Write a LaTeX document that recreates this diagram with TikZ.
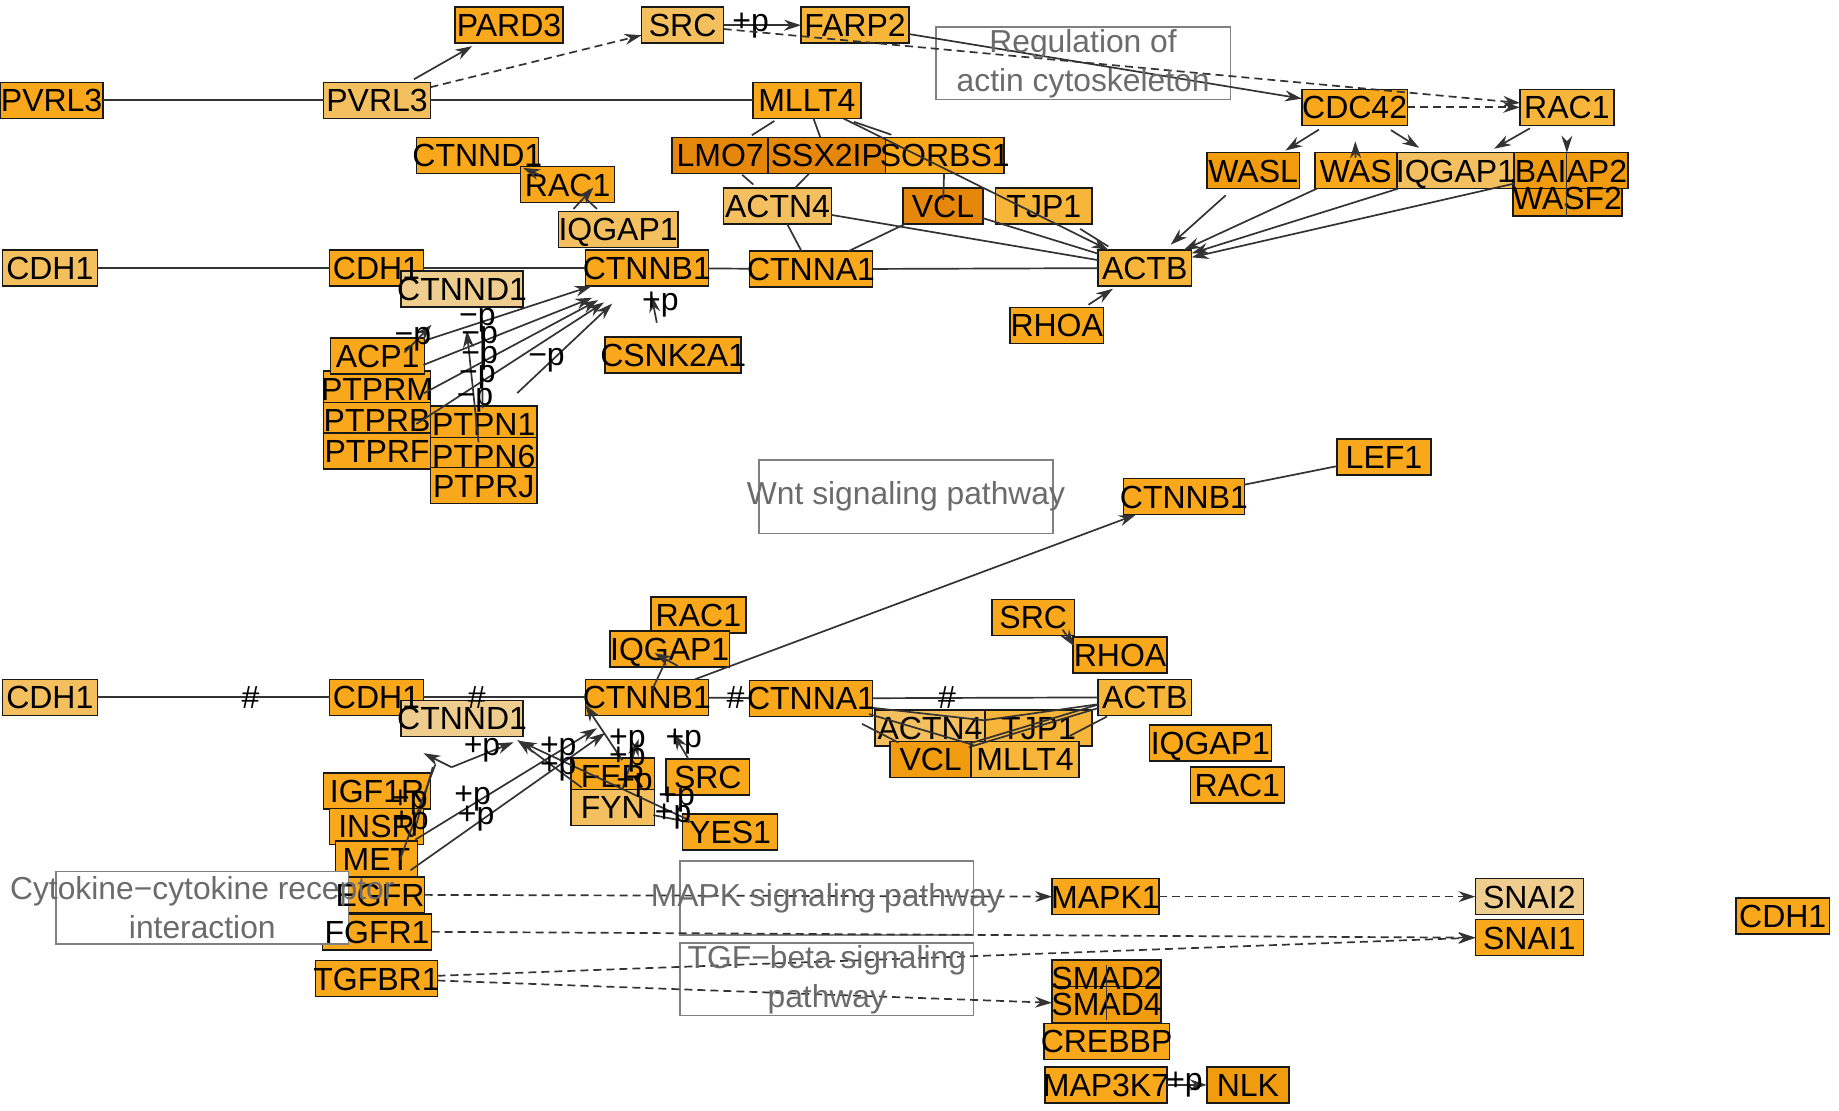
\documentclass[tikz,border=0pt]{standalone}
\usepackage{fontspec}
\setmainfont{Liberation Sans}
\usetikzlibrary{arrows.meta,calc}
\definecolor{cO}{HTML}{F9A71B}
\definecolor{cL}{HTML}{F3BF5F}
\definecolor{cP}{HTML}{EFCD8E}
\definecolor{cD}{HTML}{E5870A}
\definecolor{cM}{HTML}{F19B0F}
\definecolor{cML}{HTML}{F7B53A}
\definecolor{edgec}{HTML}{333333}
\definecolor{pgray}{HTML}{808080}
\definecolor{ptext}{HTML}{6B6B6B}
\begin{document}
\begin{tikzpicture}[x=1.1728pt,y=-1.1728pt,
  gbox/.style={rectangle,draw=black!90,line width=1.5pt,minimum height=36pt,inner sep=0pt,outer sep=0pt},
  glab/.style={font=\fontsize{32}{32}\selectfont,inner sep=0pt,text=black,text height=22.9pt,text depth=0pt},
  pbox/.style={rectangle,draw=pgray,line width=1.6pt,fill=white,inner sep=0pt,outer sep=0pt},
  plab/.style={font=\fontsize{31.8}{39}\selectfont,text=ptext,align=center,inner sep=0pt},
  conn/.style={draw=edgec,line width=1.7pt},
  arr/.style={conn,-{Stealth[length=17pt,width=11pt]}},
  dsh/.style={dash pattern=on 8pt off 5pt},
  elab/.style={font=\fontsize{32}{32}\selectfont,inner sep=0pt,text=black}]
\useasboundingbox (0,0) rectangle (1568,947);
\def\genelist{pvA/44/85.5/88/cO/PVRL3,
pvB/321.5/85.5/91/cL/PVRL3,
pard/434/21.5/92/cO/PARD3,
srcA/582/21.5/70/cL/SRC,
farp/729/21.5/92/cML/FARP2,
mlA/688/85.5/92/cO/MLLT4,
cdc/1155/91.5/90/cO/CDC42,
racA/1336/91.5/80/cML/RAC1,
ctdA/407/132.5/104/cO/CTNND1,
racB/484/157.5/80/cO/RAC1,
lmo/614/132.5/82/cD/LMO7,
ssx/705/132.5/100/cD/SSX2IP,
sor/805.5/132.5/101/cO/SORBS1,
wasl/1068.5/145.5/79/cM/WASL,
was/1156/145.5/70/cO/WAS,
iqA/1241/145.5/100/cL/IQGAP1,
wasf/1336.5/169/93/cM/WASF2,
baia/1339.5/145.5/97/cM/BAIAP2,
iqB/527/195.5/102/cL/IQGAP1,
acA/663/175.5/92/cL/ACTN4,
vclA/804/175.5/68/cD/VCL,
tjA/890/175.5/82/cML/TJP1,
cdA/42.5/228.5/81/cL/CDH1,
cdB/321/228.5/80/cO/CDH1,
ctdB/394/246.5/104/cP/CTNND1,
cbA/551.5/228.5/105/cO/CTNNB1,
caA/691.5/229.5/105/cO/CTNNA1,
abA/976/228.5/80/cML/ACTB,
rhA/901/277.5/80/cO/RHOA,
csn/574/302.5/116/cO/CSNK2A1,
ptm/321.5/331.5/91/cO/PTPRM,
acp/322/303.5/80/cO/ACP1,
ptb/321.5/358.5/91/cO/PTPRB,
ptf/321.5/384.5/91/cO/PTPRF,
pn1/412.5/361.5/91/cO/PTPN1,
pn6/412.5/388.5/91/cO/PTPN6,
prj/412.5/414/91/cO/PTPRJ,
lef/1180/389.5/80/cO/LEF1,
cbB/1009.5/423.5/103/cO/CTNNB1,
racC/595.5/524.5/81/cO/RAC1,
iqC/571/553.5/102/cO/IQGAP1,
srcB/881/526.5/70/cO/SRC,
rhB/955/558.5/80/cO/RHOA,
cdC/42.5/594.5/81/cL/CDH1,
cdD/321/594.5/80/cO/CDH1,
ctdC/394/612.5/104/cP/CTNND1,
cbC/551.5/594.5/105/cO/CTNNB1,
caB/691.5/595.5/105/cO/CTNNA1,
abB/976/594.5/80/cML/ACTB,
acB/793/620.5/94/cL/ACTN4,
tjB/885.5/620.5/91/cML/TJP1,
vclB/793.5/647.5/69/cM/VCL,
mlB/874/647.5/92/cML/MLLT4,
iqD/1032/633.5/104/cO/IQGAP1,
racD/1055/669.5/80/cO/RAC1,
srcC/603.5/662.5/71/cO/SRC,
fer/522.5/661.5/71/cO/FER,
fyn/522.5/688.5/71/cL/FYN,
yes/622.5/709.5/81/cO/YES1,
igf/321.5/674.5/91/cO/IGF1R,
insr/321/704.5/80/cO/INSR,
met/321/732.5/70/cO/MET,
egfr/324/763/76/cO/EGFR,
fgfr/321.5/794.5/93/cO/FGFR1,
tgfb/321/834.5/104/cO/TGFBR1,
mapk/942.5/764.5/91/cO/MAPK1,
sn2/1304/764.5/92/cP/SNAI2,
sn1/1304/799.5/92/cO/SNAI1,
cdE/1520/781/80/cO/CDH1,
smadB/943.5/834/93/cM/SMAD2,
smadD/943.5/856.5/93/cM/SMAD4,
creb/943.5/888/107/cO/CREBBP,
map3/943/925/104/cO/MAP3K7,
nlk/1064/925/70/cM/NLK}
% gene boxes
\foreach \nm/\gx/\gy/\gw/\gc/\gt in \genelist {
  \node[gbox,fill=\gc,minimum width=\gw*1.1728pt] (\nm) at (\gx,\gy) {};
}
% pathway boxes
\node[pbox,minimum width=251*1.1728pt,minimum height=62*1.1728pt] (regP) at (923.5,54) {};
\node[pbox,minimum width=251*1.1728pt,minimum height=63*1.1728pt] (wntP) at (772.5,423.5) {};
\node[pbox,minimum width=249*1.1728pt,minimum height=62*1.1728pt] (cytP) at (172.5,774) {};
\node[pbox,minimum width=250*1.1728pt,minimum height=63*1.1728pt] (mapP) at (705,765.5) {};
\node[pbox,minimum width=250*1.1728pt,minimum height=62*1.1728pt] (tgfP) at (705,835) {};
% gene labels
\foreach \nm/\gx/\gy/\gw/\gc/\gt in \genelist {
  \node[glab] (\nm-t) at (\nm) {\gt};
}
% ---------- top edges
\draw[conn] (pvA) -- (pvB);
\draw[conn] (pvB) -- (mlA);
\draw[arr,shorten <=6pt,shorten >=6pt] (pvB) -- (pard);
\draw[arr,dsh] (pvB) -- (srcA);
\draw[arr] (srcA) -- node[elab,pos=0.35] (lsf) {+p} (farp);
\draw[arr,dsh] (srcA) -- (racA);
\draw[arr] (farp) -- (cdc);
\draw[arr,dsh] (cdc) -- (racA);
\draw[arr,shorten <=8pt,shorten >=4pt] (cdc) -- (wasl);
\draw[arr,shorten <=-5pt,shorten >=16pt] (was) -- (cdc);
\draw[arr,shorten <=9pt,shorten >=9pt] (cdc) -- (iqA);
\draw[arr,shorten <=6pt,shorten >=8pt] (racA) -- (iqA);
\draw[arr,shorten <=16pt] (racA.south) -- (racA.south |- baia.north);
\draw[conn,line width=0.9pt] (racA.south |- baia.north) -- (racA.south |- wasf.south);
\draw[arr,shorten <=10pt,shorten >=8pt] (wasl) -- (abA);
\draw[arr] (was) -- (abA);
\draw[arr] (iqA) -- (abA);
\draw[arr] (baia) -- (abA);
\draw[conn] (acA) -- (abA);
\draw[conn] (vclA) -- (abA);
\draw[arr] (mlA) -- (abA);
\draw[conn] ($(mlA.south east)+(-6,3)$) -- ($(mlA.south east)+(26,14)$);
\draw[conn] ($(abA.north west)+(-15,-18)$) -- ($(abA.north west)+(9,-3)$);
\draw[conn] (mlA) -- (ssx);
\draw[conn,shorten <=5pt,shorten >=4pt] (mlA) -- (lmo);
\draw[conn,shorten <=2pt,shorten >=5pt] (lmo) -- (acA);
\draw[conn] (ssx) -- (acA);
\draw[conn] (acA) -- (caA);
\draw[conn,shorten >=-12pt] (sor) -- (vclA);
\draw[conn] (vclA) -- (caA);
\draw[conn] (cbA) -- (caA);
\draw[conn] (caA) -- (abA);
\draw[conn] (cdA) -- (cdB);
\draw[conn] (cdB) -- (cbA);
\draw[arr,shorten <=5pt,shorten >=5pt] (rhA) -- (abA);
\draw[arr] ($(racB.north west)+(16,7)$) -- ($(racB.north west)+(2,1)$);
\draw[arr] ($(iqB.north west)+(13,-2)$) -- ($(racB.south west)+(62,-13)$);
\draw[conn] ($(iqB.north west)+(33,-2)$) -- ($(racB.south west)+(55,-4)$);
% dephosphorylation
\draw[arr] (acp) -- (cbA);
\draw[arr] ($(ptm.north east)+(-6,-5)$) -- ($(cbA.south west)+(6,10)$);
\draw[arr] ($(ptm.east)+(-6,4)$) -- ($(cbA.south west)+(11,12)$);
\draw[arr] ($(ptb.east)+(-12,3)$) -- ($(cbA.south west)+(16,14)$);
\draw[arr] ($(pn1.north east)+(-17,-11)$) -- ($(cbA.south west)+(23,15)$);
\draw[arr] ($(acp.center)+(23,-3)$) -- ($(ctdB.south west)+(26,15)$);
\draw[arr] ($(pn6.north)+(-4.5,4)$) -- ($(ctdB.south)+(4,20)$);
\draw[conn] ($(ctdB.south)+(17,20)$) -- ($(pn1.north)+(-1,2)$);
\draw[arr] ($(csn.north)+(-14,-12)$) -- ($(cbA.south)+(4,8)$);
% ---------- lower edges
\draw[conn] (cdC) -- node[elab,pos=0.66] (h1) {\#} (cdD);
\draw[conn] (cdD) -- node[elab,pos=0.33] (h2) {\#} (cbC);
\draw[conn] (cbC) -- node[elab,pos=0.66] (h3) {\#} (caB);
\draw[conn] (caB) -- node[elab,pos=0.33] (h4) {\#} (abB);
\draw[conn] ($(caB.east)+(0,8)$) -- ($(tjB.north west)+(-1,9)$) -- ($(abB.west)+(0,6)$);
\draw[conn] ($(caB.south east)+(-3,-2)$) -- ($(mlB.north west)+(2,3)$);
\draw[conn] ($(mlB.north west)+(-2,5)$) -- ($(abB.south west)+(0,-6)$);
\draw[conn] ($(mlB.north west)+(-2,2)$) -- ($(abB.south west)+(0,-9)$);
\draw[conn] ($(vclB.north west)+(-24,-15)$) -- ($(vclB.north west)+(7,1)$);
\draw[conn] ($(tjB.east)+(-19,7)$) -- ($(abB.south west)+(8,1)$);
\draw[arr] ($(srcB.south east)+(-10,-5)$) -- ($(rhB.north west)+(1,8)$);
\draw[arr] (cbC) -- (cbB);
\draw[conn] (cbB) -- (lef);
\draw[conn] ($(cbC.north)+(4.5,9)$) -- ($(iqC.south)+(-3,-6)$);
\draw[arr] ($(iqC.south)+(7,-1)$) -- ($(iqC.south)+(-13,-12)$);
% phosphorylation
\draw[arr] ($(insr.east)+(-7,11.5)$) -- ($(cbC.south west)+(10,11)$);
\draw[arr] ($(met.east)+(-6,9.5)$) -- ($(cbC.south west)+(17,15)$);
\draw[arr] ($(fer.north)+(8,2)$) -- ($(cbC.south west)+(0,-9)$);
\draw[conn] ($(met.center)+(20,0.5)$) -- ($(igf.north east)+(4,-7)$);
\draw[conn] ($(insr.center)+(31,8.5)$) -- ($(igf.north east)+(2,-5)$);
\draw[arr] ($(igf.north east)+(18,-5)$) -- ($(igf.north east)+(-6,-17)$);
\draw[arr] ($(igf.north east)+(18,-5)$) -- ($(ctdC.south east)+(-8,5)$);
\draw[arr] ($(fer.west)+(9,10)$) -- ($(ctdC.south east)+(-5,3)$);
\draw[arr] ($(yes.west)+(6,-10)$) -- ($(ctdC.south east)+(-3,4)$);
\draw[conn] ($(fyn.east)+(-1,6.5)$) -- ($(yes.west)+(6,-8.5)$);
\draw[arr] ($(srcC.north west)+(19,0)$) -- ($(srcC.north west)+(6,-22)$);
\draw[arr] ($(fer.center)+(8,12)$) -- ($(fer.north)+(22,-16)$);
% bottom
\draw[arr,dsh] (egfr.east) -- (mapk.west);
\draw[arr,dsh] (mapk) -- (sn2);
\draw[arr,dsh] (fgfr.east) -- (sn1.west);
\draw[arr,dsh] ($(tgfb.east)+(0,-2.5)$) -- (sn1.west);
\draw[arr,dsh] ($(tgfb.east)+(0,1.5)$) -- ($(smadD.west)+(0,-1.5)$);
\draw[conn,line width=0.8pt] ($(smadB.north)+(0,4)$) -- ($(smadD.south)+(0,-2)$);
\draw[arr] (map3) -- node[elab,pos=0.44] (lmn) {+p} (nlk);
% pathway labels
\node[plab] (regL) at (regP) {Regulation of\\actin cytoskeleton};
\node[plab] (wntL) at (wntP) {Wnt signaling pathway};
\node[plab] (cytL) at (cytP) {Cytokine−cytokine receptor\\interaction};
\node[plab] (mapL) at (mapP) {MAPK signaling pathway};
\node[plab] (tgfL) at (tgfP) {TGF−beta signaling\\pathway};
% edge labels
\foreach \lx/\ly [count=\i] in {352/289,407/273,409/288,409/305,407/322,405/341,466/307}
  \node[elab] (mp\i) at (\lx,\ly) {−p};
\node[elab] (pc) at (563,260) {+p};
\foreach \lx/\ly [count=\i] in {411/639,476/639,476/655,535/632,535/648,541/669,583/632,349/684,350/702,403/681,406/698,577/682,574/696}
  \node[elab] (pp\i) at (\lx,\ly) {+p};
\end{tikzpicture}
\end{document}
